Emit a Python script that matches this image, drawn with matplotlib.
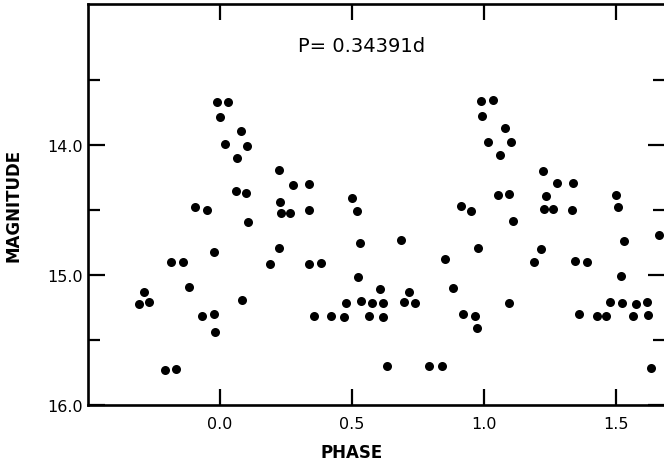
import matplotlib
matplotlib.use("Agg")
import matplotlib.pyplot as plt
from matplotlib.ticker import FixedLocator

plt.rcParams['font.family'] = ['DejaVu Sans']

# phase / magnitude of every dot (left to right, roughly)
phase = [-0.308, -0.288, -0.268, -0.209, -0.166, -0.187, -0.139, -0.117, -0.095, -0.049,
         -0.069, -0.022, -0.019, -0.022, -0.010, 0.030, -0.001, 0.019, 0.081, 0.102,
         0.066, 0.061, 0.097, 0.106, 0.083, 0.225, 0.277, 0.336, 0.226, 0.231,
         0.266, 0.336, 0.222, 0.191, 0.338, 0.384, 0.355, 0.420, 0.470, 0.476,
         0.500, 0.519, 0.529, 0.524, 0.533, 0.575, 0.563, 0.606, 0.616, 0.619,
         0.634, 0.687, 0.697, 0.715, 0.740, 0.793, 0.840, 0.851, 0.884, 0.912,
         0.950, 0.919, 0.967, 0.975, 0.978, 0.989, 1.033, 0.994, 1.078, 1.014,
         1.103, 1.059, 1.054, 1.095, 1.110, 1.094, 1.225, 1.277, 1.336, 1.234,
         1.226, 1.263, 1.334, 1.217, 1.191, 1.345, 1.391, 1.360, 1.427, 1.463,
         1.477, 1.499, 1.509, 1.530, 1.518, 1.524, 1.563, 1.576, 1.617, 1.620,
         1.634, 1.664]
mag = [15.224, 15.134, 15.211, 15.731, 15.723, 14.904, 14.904, 15.096, 14.482, 14.500,
       15.316, 15.303, 15.441, 14.823, 13.672, 13.672, 13.791, 13.991, 13.894, 14.012,
       14.101, 14.359, 14.375, 14.597, 15.191, 14.193, 14.311, 14.301, 14.444, 14.526,
       14.526, 14.503, 14.797, 14.919, 14.919, 14.909, 15.316, 15.316, 15.324, 15.216,
       14.413, 14.510, 14.756, 15.015, 15.203, 15.214, 15.314, 15.111, 15.219, 15.324,
       15.700, 14.731, 15.209, 15.132, 15.214, 15.702, 15.702, 14.876, 15.099, 14.472,
       14.510, 15.299, 15.318, 15.408, 14.794, 13.661, 13.653, 13.781, 13.871, 13.979,
       13.979, 14.078, 14.388, 14.380, 14.589, 15.219, 14.203, 14.298, 14.298, 14.398,
       14.495, 14.495, 14.500, 14.804, 14.904, 14.892, 14.902, 15.303, 15.316, 15.316,
       15.211, 14.388, 14.482, 14.741, 15.009, 15.219, 15.318, 15.226, 15.209, 15.306,
       15.718, 14.695]

xticks = [0.0, 0.5, 1.0, 1.5]
yticks = [14.0, 15.0, 16.0]
yminor = [13.5, 14.5, 15.5]
period_text = "P= 0.34391d"

fig = plt.figure(figsize=(6.64, 4.64), dpi=100)
ax = fig.add_axes([0.1325, 0.125, 0.8687, 0.864])

ax.plot(phase, mag, 'o', color='black', ms=6.5, mec='black', mew=0)

ax.set_xlim(-0.5, 1.685)
ax.set_ylim(16.0, 12.92)

ax.set_xticks(xticks)
ax.set_xticklabels(["%.1f" % v for v in xticks])
ax.set_yticks(yticks)
ax.set_yticklabels(["%.1f" % v for v in yticks])
ax.yaxis.set_minor_locator(FixedLocator(yminor))

ax.tick_params(which='both', direction='in', top=True, right=True, width=1.6,
               labelsize=11.5)
ax.tick_params(which='major', length=12, pad=4)
ax.tick_params(axis='x', which='major', length=11.5, pad=8)
ax.tick_params(which='minor', length=8.5)

for s in ax.spines.values():
    s.set_linewidth(1.9)

ax.set_xlabel("PHASE", fontsize=12, fontweight='bold')
ax.xaxis.set_label_coords(0.4577, -0.095)
ax.set_ylabel("MAGNITUDE", fontsize=12, fontweight='bold')
ax.yaxis.set_label_coords(-0.113, 0.5)

ax.text(0.364, 0.8965, period_text, transform=ax.transAxes, ha='left', va='center',
        fontsize=14)

fig.savefig("out.png", dpi=100)
